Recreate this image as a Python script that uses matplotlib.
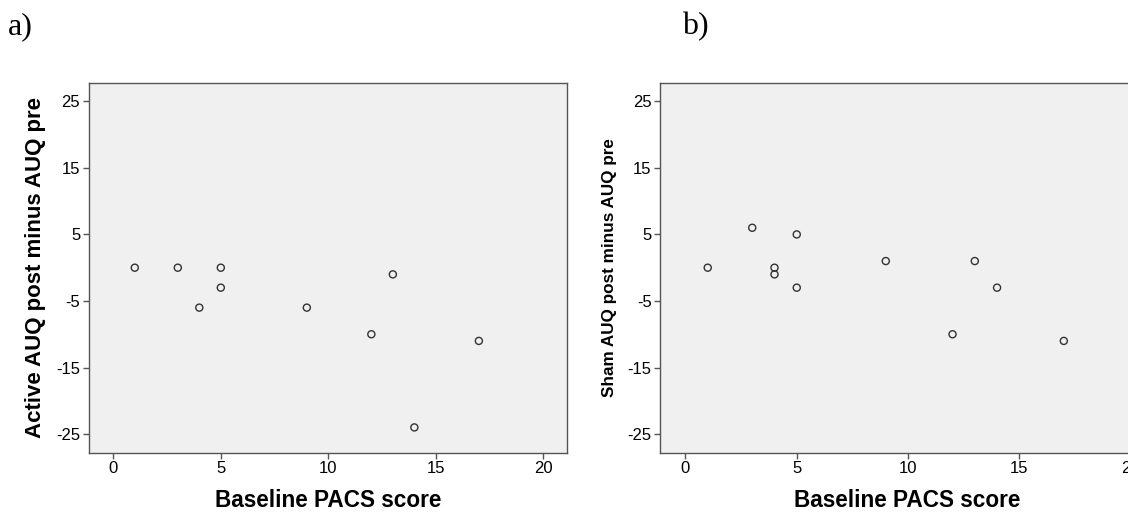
import matplotlib.pyplot as plt

# Active group: baseline PACS vs change in AUQ
active_pacs = [1, 3, 5, 5, 4, 9, 13, 12, 17, 14]
active_change = [0, 0, 0, -3, -6, -6, -1, -10, -11, -24]

# Sham group
sham_pacs = [1, 3, 4, 4, 5, 5, 9, 13, 14, 12, 17]
sham_change = [0, 6, 0, -1, 5, -3, 1, 1, -3, -10, -11]

xticks = [0, 5, 10, 15, 20]
yticks = [25, 15, 5, -5, -15, -25]

plt.rcParams['font.family'] = ['Liberation Sans', 'DejaVu Sans']
plt.rcParams['axes.unicode_minus'] = False

fig = plt.figure(figsize=(11.28, 5.12), dpi=100)
ax_a = fig.add_axes([0.0785, 0.1158, 0.4242, 0.7227])
ax_b = fig.add_axes([0.585, 0.1158, 0.439, 0.7227])


def style(ax, xs, ys, ylabel, ylabel_size):
    ax.set_facecolor('#f0f0f0')
    ax.scatter(xs, ys, s=26, facecolors='none', edgecolors='#333333',
               linewidths=1.0, zorder=3)
    ax.set_xlim(-1.15, 21.1)
    ax.set_ylim(-27.8, 27.8)
    ax.set_xticks(xticks)
    ax.set_yticks(yticks)
    for s in ax.spines.values():
        s.set_color('#555555')
        s.set_linewidth(1.0)
    ax.tick_params(direction='out', length=4, width=1, color='#555555',
                   labelsize=12, pad=2)
    ax.set_xlabel('Baseline PACS score', fontsize=16.3, fontweight='bold',
                  labelpad=9.5)
    ax.set_ylabel(ylabel, fontsize=ylabel_size, fontweight='bold')


style(ax_a, active_pacs, active_change, 'Active AUQ post minus AUQ pre', 16)
style(ax_b, sham_pacs, sham_change, 'Sham AUQ post minus AUQ pre', 12.3)
ax_a.yaxis.set_label_coords(-0.089, 0.5)
ax_b.yaxis.set_label_coords(-0.087, 0.5)

fig.text(0.007, 0.934, 'a)', family='Liberation Serif', fontsize=23,
         va='baseline')
fig.text(0.6046, 0.934, 'b)', family='Liberation Serif', fontsize=23,
         va='baseline')

fig.savefig('out.png', dpi=100)
